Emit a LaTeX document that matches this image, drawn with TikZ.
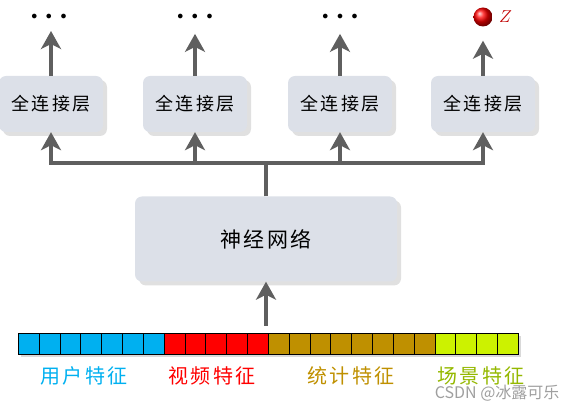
\documentclass[tikz,border=0pt]{standalone}
\usepackage{fontspec}
\setmainfont{Liberation Serif}
\newfontfamily\cjk{Noto Sans CJK SC}
\newfontfamily\cjkwide[LetterSpace=12]{Noto Sans CJK SC}
\usetikzlibrary{arrows.meta,shadows,positioning}

\definecolor{boxgray}{HTML}{DCE0E8}
\definecolor{arrgray}{HTML}{5F5F5F}
\definecolor{userblue}{HTML}{00B0F0}
\definecolor{videored}{HTML}{FF0000}
\definecolor{statgold}{HTML}{BF9000}
\definecolor{scenelime}{HTML}{CCF200}
\definecolor{scenetext}{HTML}{94B800}
\definecolor{zred}{HTML}{C00000}

\tikzset{
  layerbox/.style={fill=boxgray, rounded corners=7pt,
    minimum width=104pt, minimum height=56pt,
    font=\cjkwide\fontsize{18}{18}\selectfont,
    drop shadow={shadow xshift=4pt, shadow yshift=-4pt, opacity=0.12, fill=black}},
  arr/.style={-{Stealth[length=18pt,width=20pt,inset=5pt]}, line width=4pt, arrgray},
  stem/.style={line width=4pt, arrgray},
  cell/.style={draw=black, line width=0.8pt, minimum width=20.83pt,
    minimum height=21pt, inner sep=0pt, anchor=north west},
  featlabel/.style={font=\cjkwide\fontsize{20}{20}\selectfont},
  dotsnode/.style={font=\large, inner sep=0pt}
}

\newcommand{\outdots}{$\bullet\hspace{6pt}\bullet\hspace{6pt}\bullet$}

\begin{document}
\begin{tikzpicture}[x=1pt,y=-1pt]
  \useasboundingbox (0,0) rectangle (573,411);

  % Fully connected layers
  \node[layerbox] (fc1) at (51,104) {全连接层};
  \node[layerbox] (fc2) at (195,104) {全连接层};
  \node[layerbox] (fc3) at (340,104) {全连接层};
  \node[layerbox] (fc4) at (483,104) {全连接层};

  % Outputs on top
  \node[dotsnode] (d1) at (49,17) {\outdots};
  \node[dotsnode] (d2) at (195,17) {\outdots};
  \node[dotsnode] (d3) at (340,17) {\outdots};
  \node[circle, ball color=red, minimum size=19pt, inner sep=0pt] (zball) at (483,17) {};
  \node[right=3pt of zball, zred, font=\fontsize{18}{18}\selectfont] (zlab) {$Z$};

  \draw[arr, shorten >=14pt] (fc1.north) -- (fc1.north |- d1);
  \draw[arr, shorten >=14pt] (fc2.north) -- (d2);
  \draw[arr, shorten >=14pt] (fc3.north) -- (d3);
  \draw[arr, shorten >=14pt] (fc4.north) -- (zball);

  % Neural network
  \node[layerbox, minimum width=262pt, minimum height=85pt,
    font=\cjkwide\fontsize{21}{21}\selectfont] (nn) at (266,239) {神经网络};

  % Split to the four layers
  \coordinate (split) at (266,163);
  \draw[stem] (nn.north) -- (split);
  \foreach \i in {1,...,4}
    \draw[arr] (split) -| (fc\i.south);

  % Feature bar
  \fill[black, opacity=0.15] (21,336) rectangle (521,357);
  \foreach \c [count=\i] in {userblue,userblue,userblue,userblue,userblue,userblue,userblue,
      videored,videored,videored,videored,videored,
      statgold,statgold,statgold,statgold,statgold,statgold,statgold,statgold,
      scenelime,scenelime,scenelime,scenelime}
    \node[cell, fill=\c] (c\i) at ({18+(\i-1)*20.83},333) {};

  \coordinate (bartop) at (266,326);
  \draw[arr] (bartop) -- (nn.south);

  % Feature labels
  \node[featlabel, userblue] (lbuser) at (84,376) {用户特征};
  \node[featlabel, videored] (lbvideo) at (212,376) {视频特征};
  \node[featlabel, statgold] (lbstat) at (351,376) {统计特征};
  \node[featlabel, scenetext] (lbscene) at (481,376) {场景特征};

  % Watermark
  \node[gray!75, font=\cjk\fontsize{16}{16}\selectfont, anchor=east] (mark) at (563,393) {CSDN @冰露可乐};
\end{tikzpicture}
\end{document}
